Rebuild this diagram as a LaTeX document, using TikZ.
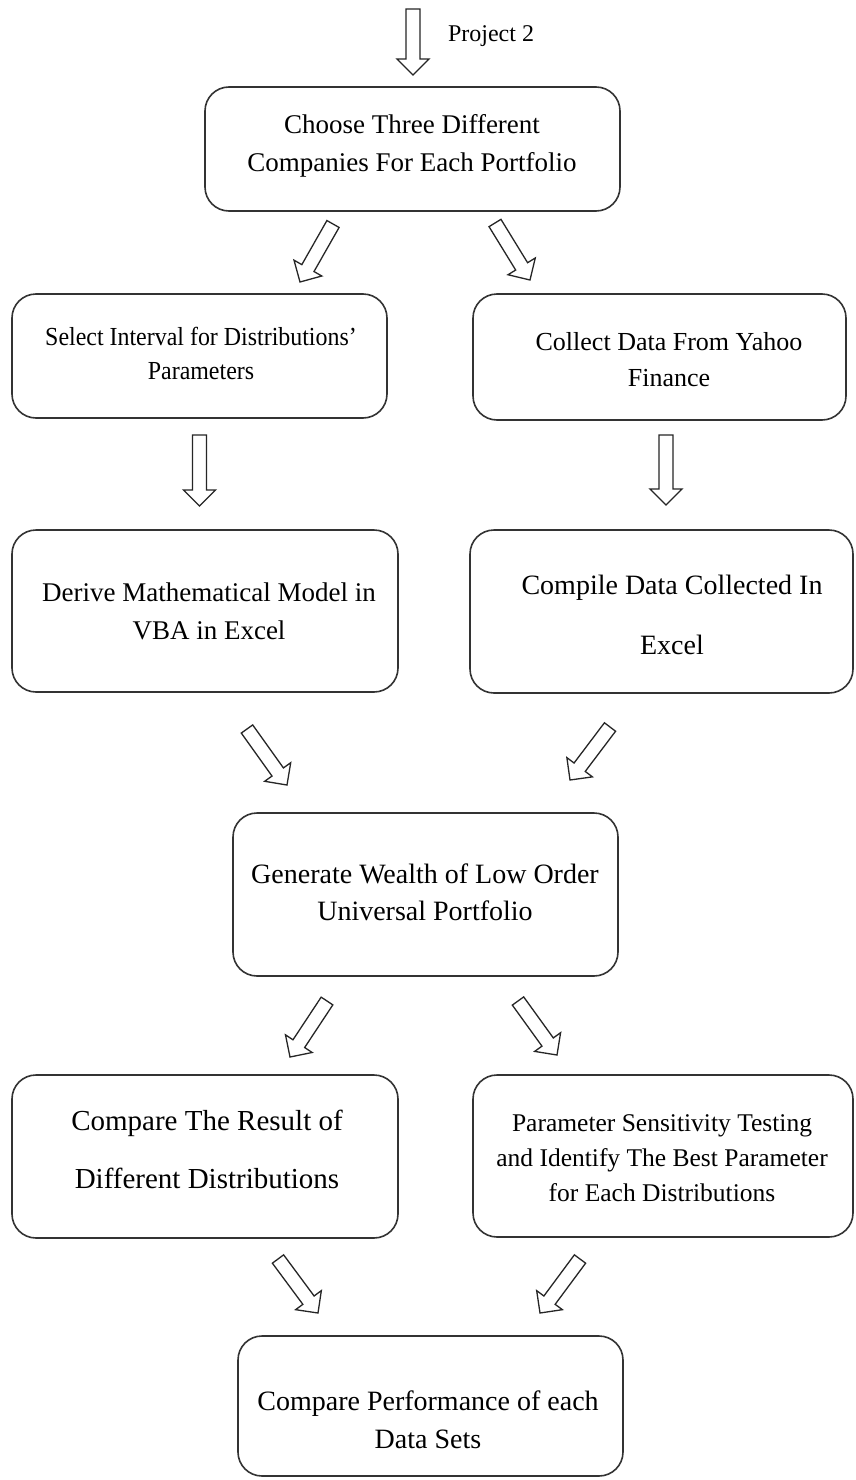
\documentclass[tikz,border=0pt]{standalone}
\usepackage{fontspec}
\setmainfont{Liberation Serif}
\usetikzlibrary{calc}
\tikzset{
  box/.style={draw=black!80, line width=1.6pt, rounded corners=24pt, inner sep=0pt},
  txt/.style={align=center, inner sep=0pt, text=black},
  barrow/.style={draw=black!85, line width=1.3pt, line join=miter, fill=white},
}
\newcommand\fs[2]{\fontsize{#1}{#2}\selectfont}
\newcommand\blockarrow[2]{%
  \coordinate (h) at ($(#2)!16pt!(#1)$);
  \draw[barrow] ($(#1)!7pt!90:(#2)$) -- ($(h)!7pt!90:(#2)$) -- ($(h)!16pt!90:(#2)$)
    -- (#2) -- ($(h)!16pt!-90:(#2)$) -- ($(h)!7pt!-90:(#2)$) -- ($(#1)!7pt!-90:(#2)$) -- cycle;}
\begin{document}
\begin{tikzpicture}[x=1pt,y=-1pt]
\useasboundingbox (0,0) rectangle (856,1480);
\fill[white] (0,0) rectangle (856,1480);

% boxes
\node[box, minimum width=415pt, minimum height=124pt] (b1) at (412.5,149) {};
\node[box, minimum width=375pt, minimum height=124pt] (b2) at (199.5,356) {};
\node[box, minimum width=373pt, minimum height=126pt] (b3) at (659.5,357) {};
\node[box, minimum width=386pt, minimum height=162pt] (b4) at (205,611) {};
\node[box, minimum width=383pt, minimum height=163pt] (b5) at (661.5,611.5) {};
\node[box, minimum width=385pt, minimum height=163pt] (b6) at (425.5,894.5) {};
\node[box, minimum width=386pt, minimum height=163pt] (b7) at (205,1156.5) {};
\node[box, minimum width=380pt, minimum height=162pt] (b8) at (663,1156) {};
\node[box, minimum width=385pt, minimum height=140pt] (b9) at (430.5,1406) {};

% texts
\node[txt, font=\fs{24}{29}] (t0) at (491,36) {Project 2};
\node[txt, font=\fs{27}{38}] (t1) at (412,146) {Choose Three Different\\Companies For Each Portfolio};
\node[txt, font=\fs{26}{34}, xscale=0.92] (t2) at (201,353) {Select Interval for Distributions’\\Parameters};
\node[txt, font=\fs{26}{36}] (t3) at (669,360) {Collect Data From Yahoo\\Finance};
\node[txt, font=\fs{27}{38}] (t4) at (209,611) {Derive Mathematical Model in\\VBA in Excel};
\node[txt, font=\fs{28}{60}] (t5) at (672,615) {Compile Data Collected In\\Excel};
\node[txt, font=\fs{28}{37}] (t6) at (425,892) {Generate Wealth of Low Order\\Universal Portfolio};
\node[txt, font=\fs{29}{58}] (t7) at (207,1149) {Compare The Result of\\Different Distributions};
\node[txt, font=\fs{25.5}{35}] (t8) at (662,1158) {Parameter Sensitivity Testing\\and Identify The Best Parameter\\for Each Distributions};
\node[txt, font=\fs{28}{38}] (t9) at (428,1420) {Compare Performance of each\\Data Sets};

% arrow end points
\coordinate (a0s) at (413,9);     \coordinate (a0e) at (413,75);
\coordinate (a1s) at (333,224);   \coordinate (a1e) at (300,282);
\coordinate (a2s) at (495,223);   \coordinate (a2e) at (530,280);
\coordinate (a3s) at (199.5,435); \coordinate (a3e) at (199.5,506);
\coordinate (a4s) at (666,435);   \coordinate (a4e) at (666,505);
\coordinate (a5s) at (247,729);   \coordinate (a5e) at (287,785);
\coordinate (a6s) at (610,727);   \coordinate (a6e) at (570,780);
\coordinate (a7s) at (327,1001);  \coordinate (a7e) at (290,1057);
\coordinate (a8s) at (518,1001);  \coordinate (a8e) at (557,1055);
\coordinate (a9s) at (278,1259);  \coordinate (a9e) at (318,1313);
\coordinate (a10s) at (580,1259); \coordinate (a10e) at (540,1313);

\blockarrow{a0s}{a0e}
\blockarrow{a1s}{a1e}
\blockarrow{a2s}{a2e}
\blockarrow{a3s}{a3e}
\blockarrow{a4s}{a4e}
\blockarrow{a5s}{a5e}
\blockarrow{a6s}{a6e}
\blockarrow{a7s}{a7e}
\blockarrow{a8s}{a8e}
\blockarrow{a9s}{a9e}
\blockarrow{a10s}{a10e}
\end{tikzpicture}
\end{document}
